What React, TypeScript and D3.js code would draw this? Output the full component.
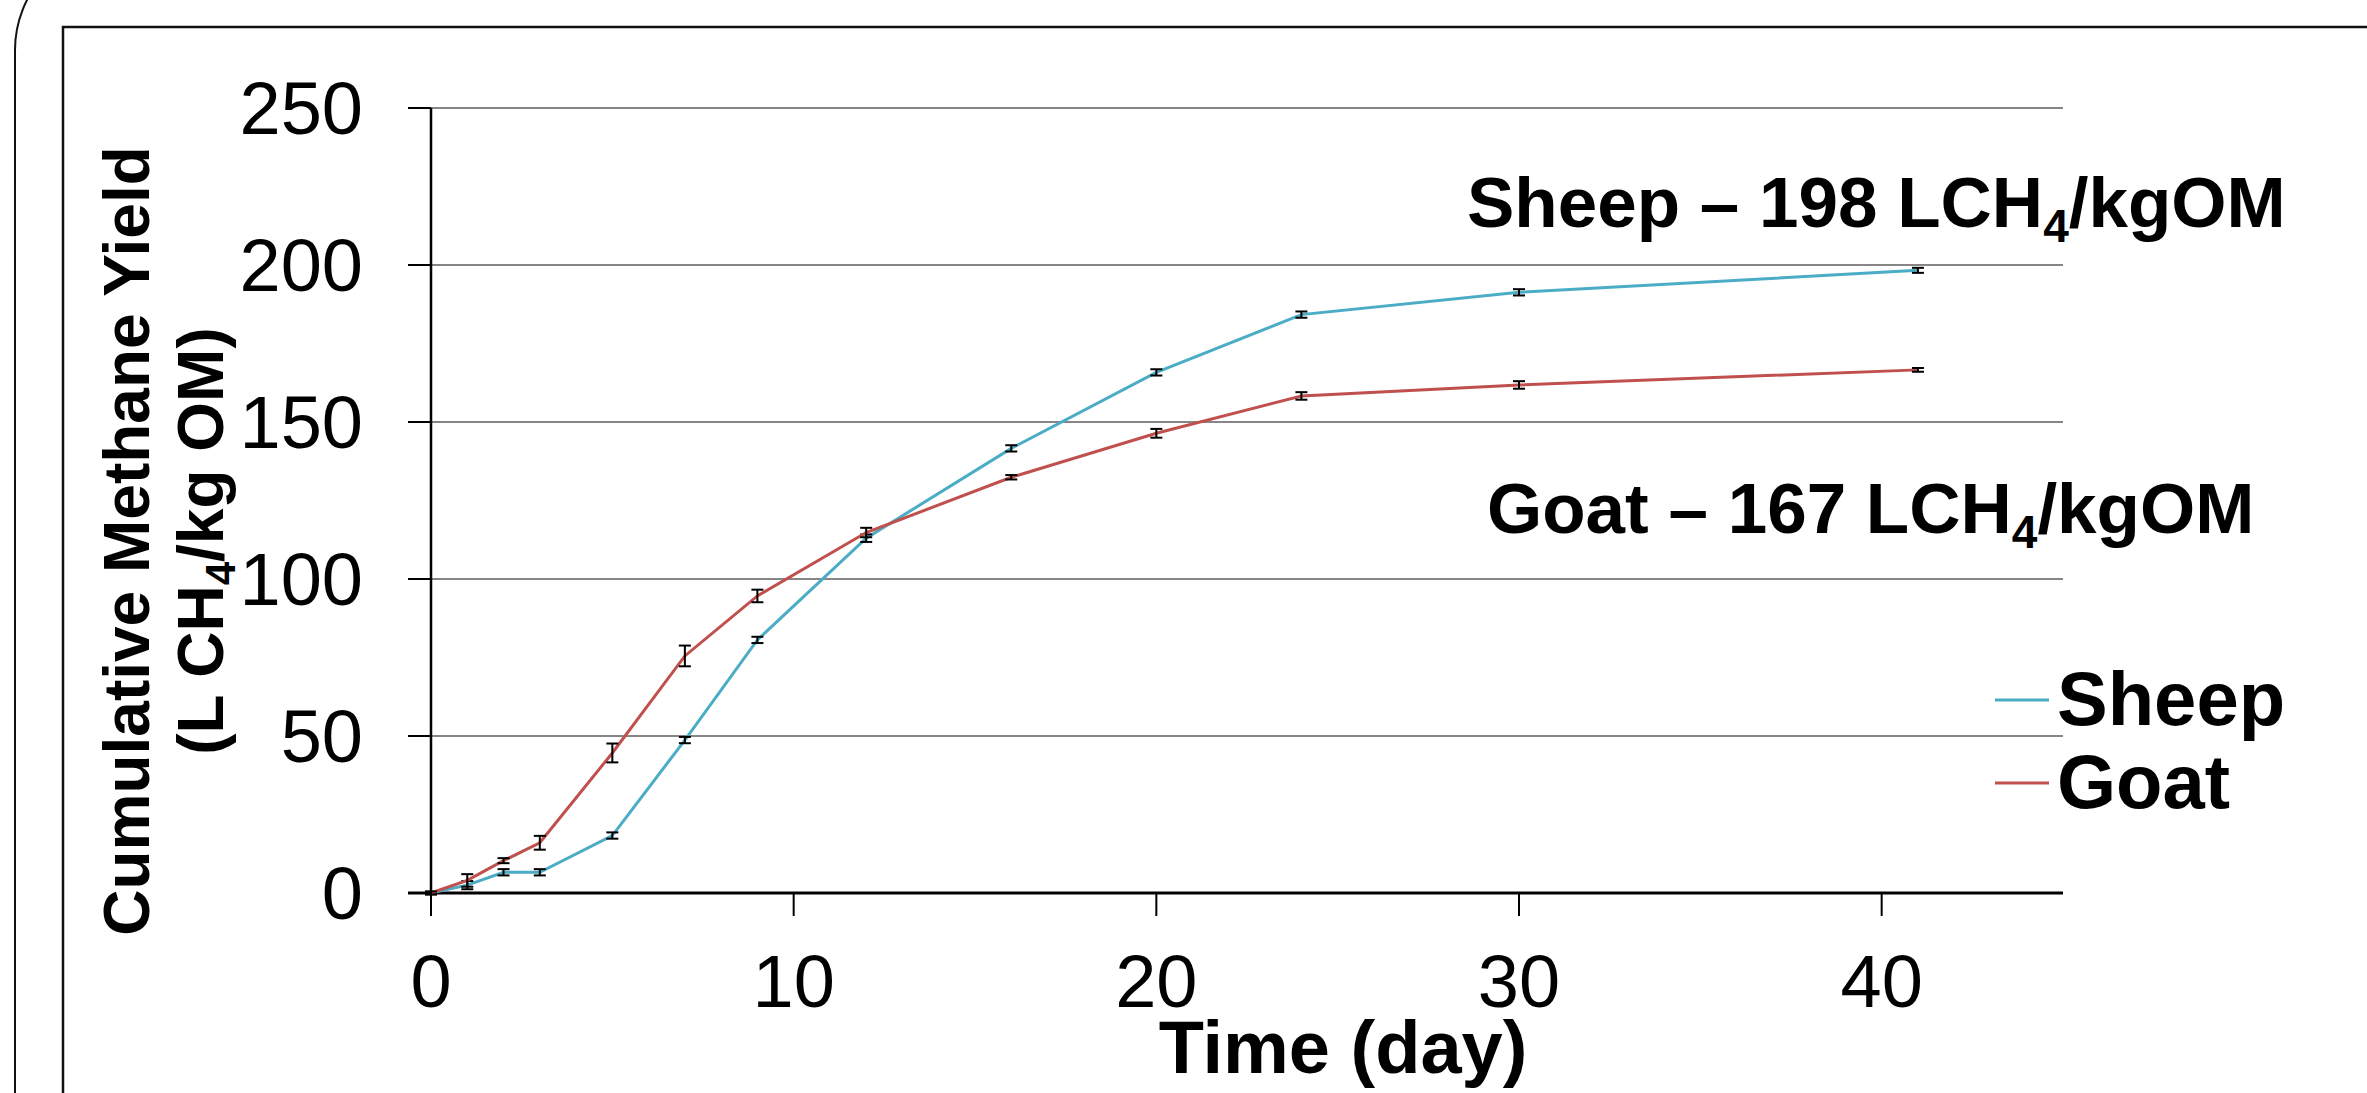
import React from 'react'
import { scaleLinear, line } from 'd3'

const WIDTH = 2367
const HEIGHT = 1093

const days = [0, 1, 2, 3, 5, 7, 9, 12, 16, 20, 24, 30, 41]
const sheep = [0, 2.5, 6.6, 6.6, 18.3, 48.7, 80.6, 113, 141.6, 165.8, 184.2, 191.3, 198.3]
const sheepErr = [0.4, 1.3, 1, 1, 1, 1, 1, 1.2, 1, 1, 1, 1, 0.8]
const goat = [0, 4, 10.3, 16, 44.6, 75.5, 94.6, 114.8, 132.4, 146.4, 158.3, 161.8, 166.6]
const goatErr = [0.5, 2, 0.8, 2.2, 3, 3.3, 2, 1.5, 0.7, 1.4, 1.2, 1.2, 0.6]

const xTicks = [0, 10, 20, 30, 40]
const yTicks = [0, 50, 100, 150, 200, 250]

const series = [
  { name: 'Sheep', values: sheep, err: sheepErr, color: '#4BACC6', total: 198 },
  { name: 'Goat', values: goat, err: goatErr, color: '#C0504D', total: 167 },
]

const FONT = '"Liberation Sans", Arial, sans-serif'

const App = () => {
  const x = scaleLinear().domain([0, 45]).range([431, 2063])
  const y = scaleLinear().domain([0, 250]).range([893, 108])

  const path = line<number>()
    .x((_, i) => x(days[i]))
    .y(d => y(d))

  return (
    <svg
      width={WIDTH}
      height={HEIGHT}
      viewBox={`0 0 ${WIDTH} ${HEIGHT}`}
      style={{ position: 'absolute', left: 0, top: 0, background: 'white', fontFamily: FONT }}
    >
      {/* frames */}
      <rect x={15} y={-60} width={2600} height={1400} rx={110} ry={110} fill="none" stroke="#111" strokeWidth={2} />
      <rect x={63} y={27} width={2600} height={1400} fill="none" stroke="#111" strokeWidth={2.5} />

      {/* gridlines */}
      {yTicks.filter(t => t > 0).map(t => (
        <line key={t} x1={x(0)} x2={x(45)} y1={y(t)} y2={y(t)} stroke="#868686" strokeWidth={2} />
      ))}

      {/* y axis */}
      <line x1={x(0)} x2={x(0)} y1={y(250)} y2={y(0)} stroke="black" strokeWidth={2.5} />
      {yTicks.map(t => (
        <g key={t}>
          <line x1={x(0) - 23} x2={x(0)} y1={y(t)} y2={y(t)} stroke="black" strokeWidth={2} />
          <text x={363} y={y(t)} dy="0.35em" textAnchor="end" fontSize={74}>{t}</text>
        </g>
      ))}

      {/* x axis */}
      <line x1={x(0) - 23} x2={x(45)} y1={y(0)} y2={y(0)} stroke="black" strokeWidth={3} />
      {xTicks.map(t => (
        <g key={t}>
          <line x1={x(t)} x2={x(t)} y1={y(0)} y2={y(0) + 23} stroke="black" strokeWidth={2} />
          <text x={x(t)} y={1007} textAnchor="middle" fontSize={74}>{t}</text>
        </g>
      ))}

      {/* axis titles */}
      <text x={1343} y={1073} textAnchor="middle" fontSize={74} fontWeight="bold">Time (day)</text>
      <g transform="translate(149, 541) rotate(-90)">
        <text x={0} y={0} textAnchor="middle" fontSize={64} fontWeight="bold">Cumulative Methane Yield</text>
        <text x={0} y={74} textAnchor="middle" fontSize={64} fontWeight="bold">
          (L CH<tspan fontSize={42} dy={12}>4</tspan><tspan dy={-12}>/kg OM)</tspan>
        </text>
      </g>

      {/* series */}
      {series.map(s => (
        <g key={s.name}>
          <path d={path(s.values) || ''} fill="none" stroke={s.color} strokeWidth={3} />
          {s.values.map((v, i) => (
            <g key={i} stroke="black" strokeWidth={2}>
              <line x1={x(days[i])} x2={x(days[i])} y1={y(v - s.err[i])} y2={y(v + s.err[i])} />
              <line x1={x(days[i]) - 6} x2={x(days[i]) + 6} y1={y(v - s.err[i])} y2={y(v - s.err[i])} />
              <line x1={x(days[i]) - 6} x2={x(days[i]) + 6} y1={y(v + s.err[i])} y2={y(v + s.err[i])} />
            </g>
          ))}
        </g>
      ))}

      {/* annotations */}
      <text x={1467} y={227} fontSize={71} fontWeight="bold">
        {`Sheep – ${series[0].total} LCH`}<tspan fontSize={46} dy={15}>4</tspan><tspan dy={-15}>/kgOM</tspan>
      </text>
      <text x={1487} y={533} fontSize={71} fontWeight="bold">
        {`Goat – ${series[1].total} LCH`}<tspan fontSize={46} dy={15}>4</tspan><tspan dy={-15}>/kgOM</tspan>
      </text>

      {/* legend */}
      {series.map((s, i) => (
        <g key={s.name} transform={`translate(0, ${700 + i * 83})`}>
          <line x1={1995} x2={2049} y1={0} y2={0} stroke={s.color} strokeWidth={3} />
          <text x={2057} y={25} fontSize={76} fontWeight="bold">{s.name}</text>
        </g>
      ))}
    </svg>
  )
}

export default App
